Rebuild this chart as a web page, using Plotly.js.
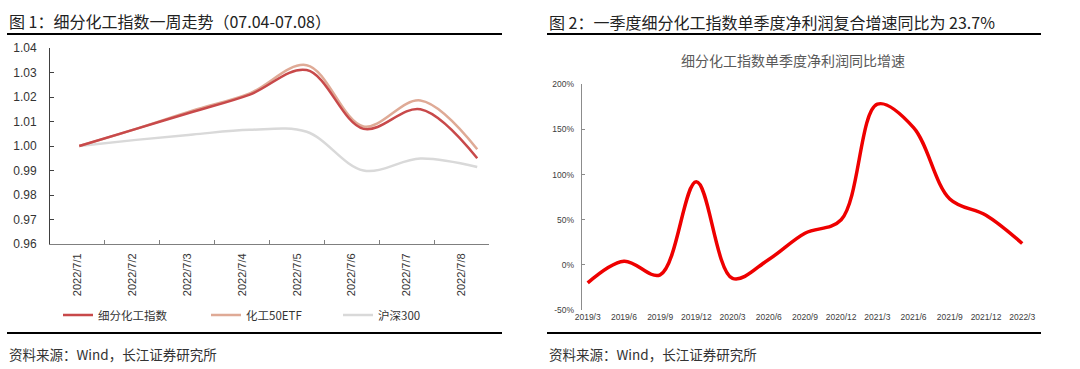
<!DOCTYPE html>
<html>
<head>
<meta charset="utf-8">
<script src="https://cdn.plot.ly/plotly-3.0.1.min.js"></script>
<style>
html,body{margin:0;padding:0;background:#fff;}
#chart{width:1080px;height:369px;}
</style>
</head>
<body>
<div id="chart"></div>
<script>
// ---- Figure 1 data ----
const dates = ['2022/7/1','2022/7/2','2022/7/3','2022/7/4','2022/7/5','2022/7/6','2022/7/7','2022/7/8'];
const chemIndex = [1.000, 1.007, 1.014, 1.021, 1.031, 1.007, 1.015, 0.995];
const chemETF50 = [1.000, 1.007, 1.0145, 1.0215, 1.033, 1.008, 1.0186, 0.9987];
const hs300 = [1.000, 1.0025, 1.0047, 1.0066, 1.0058, 0.990, 0.9949, 0.9914];
const seriesNames = ['细分化工指数', '化工50ETF', '沪深300'];

// ---- Figure 2 data ----
const quarters = ['2019/3','2019/6','2019/9','2019/12','2020/3','2020/6','2020/9','2020/12','2021/3','2021/6','2021/9','2021/12','2022/3'];
const profitYoY = [-20, 4, -11, 92, -15, 6, 35, 50, 178, 152, 73, 55, 23.7];
const yTicks2 = [-50, 0, 50, 100, 150, 200];

const W = 1080, H = 369;
const px = v => v / W;
const py = v => 1 - v / H;
const FONT = 'Liberation Sans, Arial, Noto Sans CJK SC, sans-serif';
const CJK = 'Noto Sans CJK SC, Liberation Sans, sans-serif';

const traces = [
  // helper trace that only registers the category labels on the visible date axis (draws nothing)
  {x: dates, y: hs300, type: 'scatter', mode: 'lines', xaxis: 'x', yaxis: 'y', opacity: 0,
   line: {width: 0}, showlegend: false, hoverinfo: 'skip'},
  {x: dates, y: hs300, name: seriesNames[2], type: 'scatter', mode: 'lines', xaxis: 'x2', yaxis: 'y',
   line: {color: '#d9d9d9', width: 2.5, shape: 'spline', smoothing: 1}, legend: 'legend3'},
  {x: dates, y: chemETF50, name: seriesNames[1], type: 'scatter', mode: 'lines', xaxis: 'x2', yaxis: 'y',
   line: {color: '#dfaa96', width: 2.5, shape: 'spline', smoothing: 1}, legend: 'legend2'},
  {x: dates, y: chemIndex, name: seriesNames[0], type: 'scatter', mode: 'lines', xaxis: 'x2', yaxis: 'y',
   line: {color: '#c8494a', width: 2.5, shape: 'spline', smoothing: 1}, legend: 'legend'},
  {x: quarters, y: profitYoY, name: '净利润同比', type: 'scatter', mode: 'lines', xaxis: 'x3', yaxis: 'y2',
   line: {color: '#ee0000', width: 3.5, shape: 'spline', smoothing: 1}, showlegend: false}
];

const leftDom = [px(50), px(489)];
const rightDom = [px(581.7), px(1028)];
const tickPos2 = quarters.slice(1).map((q, i) => i + 1 - 0.16);

const legendBase = {y: py(315), xanchor: 'left', yanchor: 'middle', orientation: 'h',
  font: {size: 11.5, color: '#333', family: CJK}, bgcolor: 'rgba(0,0,0,0)', itemwidth: 30};

const layout = {
  width: W, height: H,
  margin: {l: 0, r: 0, t: 0, b: 0},
  paper_bgcolor: '#fff', plot_bgcolor: 'rgba(0,0,0,0)',
  font: {family: FONT, color: '#333'},
  xaxis: {
    domain: leftDom, anchor: 'y', type: 'category', range: [-0.5, 7.5],
    showline: true, linecolor: '#7f7f7f', linewidth: 1,
    ticks: 'inside', ticklen: 4, tickcolor: '#7f7f7f', tickson: 'boundaries',
    tickangle: -90, tickfont: {size: 11, color: '#333', family: FONT}, ticklabelstandoff: 4,
    showgrid: false, zeroline: false
  },
  xaxis2: {
    domain: leftDom, anchor: 'y', overlaying: 'x', type: 'category', range: [-0.515, 7.207],
    visible: false, showgrid: false, zeroline: false
  },
  yaxis: {
    domain: [py(244), py(48)], anchor: 'x', range: [0.96, 1.04], dtick: 0.01, tickformat: '.2f',
    showline: true, linecolor: '#404040', linewidth: 1,
    ticks: 'inside', ticklen: 4, tickcolor: '#404040',
    tickfont: {size: 12, color: '#333', family: FONT}, ticklabelstandoff: 10,
    showgrid: false, zeroline: false
  },
  xaxis3: {
    domain: rightDom, anchor: 'y2', type: 'category', range: [-0.166, 12.16],
    showline: false, ticks: '', tickfont: {size: 8.5, color: '#404040', family: FONT},
    showgrid: false, zeroline: false
  },
  xaxis4: {
    domain: rightDom, anchor: 'free', position: py(265), overlaying: 'x3', type: 'linear',
    range: [-0.166, 12.16], showline: true, linecolor: '#595959', linewidth: 1,
    ticks: 'inside', ticklen: 4, tickcolor: '#595959', tickmode: 'array', tickvals: tickPos2,
    showticklabels: false, showgrid: false, zeroline: false
  },
  yaxis2: {
    domain: [py(310), py(84.3)], anchor: 'x3', range: [-50, 200],
    tickmode: 'array', tickvals: yTicks2, ticktext: yTicks2.map(v => v + '%'),
    showline: true, linecolor: '#8c8c8c', linewidth: 1,
    ticks: 'inside', ticklen: 3, tickcolor: '#8c8c8c',
    tickfont: {size: 8.5, color: '#404040', family: FONT}, ticklabelstandoff: 5,
    showgrid: false, zeroline: false
  },
  legend: Object.assign({x: px(58)}, legendBase),
  legend2: Object.assign({x: px(206)}, legendBase),
  legend3: Object.assign({x: px(338)}, legendBase),
  shapes: [
    {type: 'line', xref: 'paper', yref: 'paper', x0: px(7), x1: px(502), y0: py(34), y1: py(34), line: {color: '#000', width: 2}},
    {type: 'line', xref: 'paper', yref: 'paper', x0: px(7), x1: px(502), y0: py(333), y1: py(333), line: {color: '#000', width: 2}},
    {type: 'line', xref: 'paper', yref: 'paper', x0: px(547), x1: px(1041), y0: py(34), y1: py(34), line: {color: '#000', width: 2}},
    {type: 'line', xref: 'paper', yref: 'paper', x0: px(547), x1: px(1041), y0: py(333), y1: py(333), line: {color: '#000', width: 2}}
  ],
  annotations: [
    {text: '图 1：细分化工指数一周走势（07.04-07.08）', xref: 'paper', yref: 'paper', x: px(7), y: py(21),
     xanchor: 'left', yanchor: 'middle', showarrow: false, font: {size: 16, color: '#222', family: CJK}},
    {text: '图 2：一季度细分化工指数单季度净利润复合增速同比为 23.7%', xref: 'paper', yref: 'paper', x: px(547), y: py(22),
     xanchor: 'left', yanchor: 'middle', showarrow: false, font: {size: 16, color: '#222', family: CJK}},
    {text: '细分化工指数单季度净利润同比增速', xref: 'paper', yref: 'paper', x: px(793), y: py(60),
     xanchor: 'center', yanchor: 'middle', showarrow: false, font: {size: 14, color: '#595959', family: CJK}},
    {text: '资料来源：Wind，长江证券研究所', xref: 'paper', yref: 'paper', x: px(7), y: py(354),
     xanchor: 'left', yanchor: 'middle', showarrow: false, font: {size: 13.5, color: '#333', family: CJK}},
    {text: '资料来源：Wind，长江证券研究所', xref: 'paper', yref: 'paper', x: px(547), y: py(354),
     xanchor: 'left', yanchor: 'middle', showarrow: false, font: {size: 13.5, color: '#333', family: CJK}}
  ]
};

Plotly.newPlot('chart', traces, layout, {staticPlot: true, displayModeBar: false});
</script>
</body>
</html>
